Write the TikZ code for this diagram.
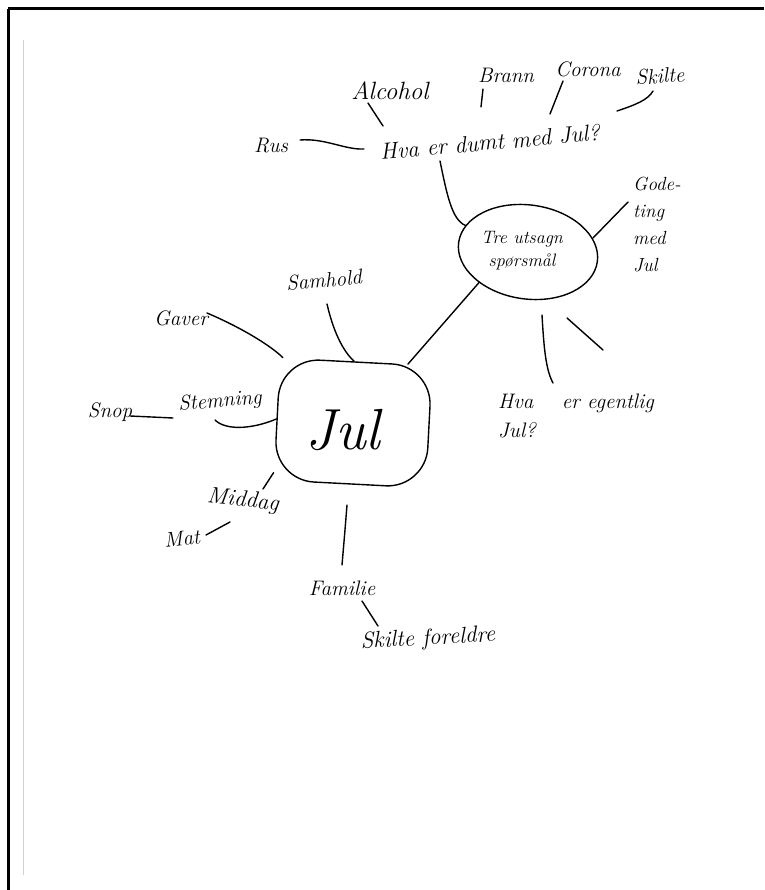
\documentclass[tikz,border=0pt]{standalone}
\usepackage{fontspec}
\usetikzlibrary{shapes.geometric}
\tikzset{
  ink/.style={line width=1.4pt, line cap=round, black},
  word/.style={inner sep=0pt, font=\fontsize{21}{23}\selectfont\itshape},
  bigword/.style={inner sep=0pt, font=\fontsize{58}{60}\selectfont\itshape},
}
\begin{document}
\begin{tikzpicture}[x=1pt,y=-1pt]
\useasboundingbox (0,0) rectangle (764,890);
\fill[white] (0,0) rectangle (764,890);
% page edges
\draw[line width=3pt] (8,9) -- (764,9);
\draw[line width=3pt] (8,9) -- (8,890);
\draw[line width=1.5pt, black!18] (23.5,40) -- (23.5,875);

% central ideas
\node[draw, ink, rounded corners=40pt, minimum width=152pt, minimum height=122pt, rotate=-3] (jul) at (353,423) {};
\node[bigword] (jultxt) at (343,430) {Jul};
\node[draw, ink, ellipse, minimum width=140pt, minimum height=94pt, rotate=-8] (tre) at (528,252) {};
\node[word, align=center, font=\fontsize{18}{23}\selectfont\itshape] (tretxt) at (522,251) {Tre utsagn\\spørsmål};

% labels
\node[word, rotate=5, font=\fontsize{23}{25}\selectfont\itshape] (dumt) at (490,142) {Hva er dumt med Jul?};
\node[word, font=\fontsize{25}{27}\selectfont\itshape] (alc) at (390,91) {Alcohol};
\node[word] (brann) at (506,75) {Brann};
\node[word] (corona) at (588,69) {Corona};
\node[word, rotate=4] (skilte) at (660,76) {Skilte};
\node[word] (rus) at (271,146) {Rus};
\node[word, align=left, anchor=north west, font=\fontsize{19}{27}\selectfont\itshape] (gode) at (633,177) {Gode-\\ting\\med\\Jul};
\node[word, anchor=west] (egent) at (498,403) {Hva \quad er egentlig};
\node[word, anchor=west] (egent2) at (498,430) {Jul?};
\node[word, rotate=5] (samhold) at (324,280) {Samhold};
\node[word] (gaver) at (181,318) {Gaver};
\node[word, rotate=5] (stem) at (220,402) {Stemning};
\node[word] (snop) at (110,412) {Snop};
\node[word, rotate=-6, font=\fontsize{23}{25}\selectfont\itshape] (middag) at (243,501) {Middag};
\node[word, rotate=6] (mat) at (182,539) {Mat};
\node[word] (familie) at (342,588) {Familie};
\node[word, rotate=3, font=\fontsize{23}{25}\selectfont\itshape] (forel) at (428,639) {Skilte foreldre};

% free line ends
\coordinate (c-dumt-t) at (440,161);
\coordinate (c-alc-a) at (368,103);
\coordinate (c-alc-b) at (383,126);
\coordinate (c-rus) at (300,140);
\coordinate (c-rus-b) at (364,149);
\coordinate (c-brann-a) at (483,89);
\coordinate (c-brann-b) at (481,107);
\coordinate (c-cor-a) at (563,81);
\coordinate (c-cor-b) at (550,114);
\coordinate (c-sk-a) at (653,91);
\coordinate (c-sk-b) at (617,111);
\coordinate (c-gode) at (628,202);
\coordinate (c-q1a) at (542,315);
\coordinate (c-q1b) at (553,383);
\coordinate (c-q2a) at (567,318);
\coordinate (c-q2b) at (603,350);
\coordinate (c-sam) at (327,304);
\coordinate (c-gav) at (207,313);
\coordinate (c-stem) at (215,420);
\coordinate (c-snop-a) at (130,416);
\coordinate (c-snop-b) at (173,418);
\coordinate (c-mid) at (263,489);
\coordinate (c-mat-a) at (230,522);
\coordinate (c-mat-b) at (206,535);
\coordinate (c-fam-a) at (347,505);
\coordinate (c-fam-b) at (342,565);
\coordinate (c-for-a) at (362,601);
\coordinate (c-for-b) at (378,626);

% connectors
\draw[ink] (jul.50) -- (tre.220);
\draw[ink] (c-dumt-t) .. controls (447,195) and (452,220) .. (tre.165);
\draw[ink] (c-alc-a) -- (c-alc-b);
\draw[ink] (c-rus) .. controls (325,138) and (345,150) .. (c-rus-b);
\draw[ink] (c-brann-a) -- (c-brann-b);
\draw[ink] (c-cor-a) -- (c-cor-b);
\draw[ink] (c-sk-b) .. controls (635,105) and (648,100) .. (c-sk-a);
\draw[ink] (tre.20) -- (c-gode);
\draw[ink] (c-q1a) .. controls (544,350) and (546,370) .. (c-q1b);
\draw[ink] (c-q2a) -- (c-q2b);
\draw[ink] (c-sam) .. controls (333,330) and (342,350) .. (jul.92);
\draw[ink] (c-gav) .. controls (240,327) and (270,345) .. (jul.140);
\draw[ink] (c-stem) .. controls (225,430) and (250,430) .. (jul.180);
\draw[ink] (c-snop-a) -- (c-snop-b);
\draw[ink] (c-mid) -- (jul.215);
\draw[ink] (c-mat-a) -- (c-mat-b);
\draw[ink] (c-fam-a) .. controls (345,530) .. (c-fam-b);
\draw[ink] (c-for-a) -- (c-for-b);
\end{tikzpicture}
\end{document}
